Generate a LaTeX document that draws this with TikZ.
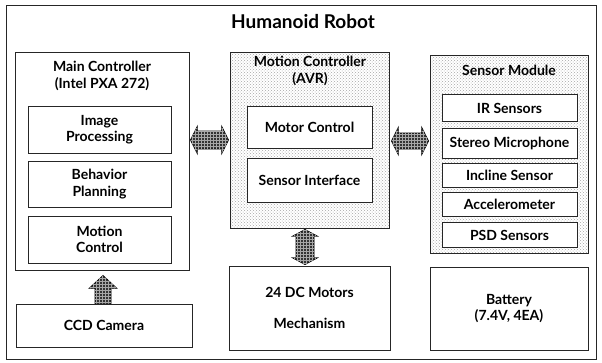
\documentclass[tikz,border=0pt]{standalone}
\usepackage{fontspec}
\setmainfont{Lato}
\usetikzlibrary{patterns,calc}
\begin{document}
\begin{tikzpicture}[x=1pt,y=-1pt,
  box/.style={draw=black!85, line width=0.8pt, fill=white, rectangle, inner sep=0pt, align=center, font=\bfseries\fontsize{14}{16.5}\selectfont},
  dotbox/.style={draw=black!85, line width=0.8pt, rectangle, inner sep=0pt, pattern=crosshatch dots, pattern color=black!35},
  lbl/.style={align=center, font=\bfseries\fontsize{14}{17}\selectfont, inner sep=1pt},
  fatarrow/.style={draw=black, line width=0.6pt, fill=black!80},
  hatch/.style={pattern=grid, pattern color=black!35}
]
\useasboundingbox (0,0) rectangle (602,362);
\node[draw=black!85, line width=0.9pt, minimum width=590pt, minimum height=354pt, inner sep=0pt] (frame) at (301,182) {};
\node[font=\bfseries\fontsize{19}{22}\selectfont] (title) at (303,22) {Humanoid Robot};

% Main controller
\node[box, minimum width=174pt, minimum height=218pt] (main) at (102,161) {};
\node[lbl] (maint) at (102,76) {Main Controller\\(Intel PXA 272)};
\node[box, minimum width=143pt, minimum height=47pt] (img) at (99.5,129.5) {Image\\Processing};
\node[box, minimum width=143pt, minimum height=46pt] (beh) at (99.5,184) {Behavior\\Planning};
\node[box, minimum width=143pt, minimum height=47pt] (mc) at (99.5,239.5) {Motion\\Control};
\node[box, minimum width=176pt, minimum height=43pt] (ccd) at (104,325.5) {CCD Camera};

% Motion controller
\node[dotbox, minimum width=159pt, minimum height=176pt] (motion) at (309.5,140) {};
\node[lbl] (motiont) at (310,71) {Motion Controller\\(AVR)};
\node[box, minimum width=125pt, minimum height=42pt] (motor) at (309.5,127) {Motor Control};
\node[box, minimum width=125pt, minimum height=44pt] (sint) at (309.5,180) {Sensor Interface};
\node[box, minimum width=161pt, minimum height=84pt] (motors) at (309.5,308) {24 DC Motors\\[14pt]Mechanism};

% Sensor module
\node[dotbox, minimum width=158pt, minimum height=198pt] (sensor) at (509,154) {};
\node[lbl] (sensort) at (509,70) {Sensor Module};
\node[box, minimum width=135pt, minimum height=27pt] (ir) at (509.5,108) {IR Sensors};
\node[box, minimum width=135pt, minimum height=30pt] (mic) at (509.5,143) {Stereo Microphone};
\node[box, minimum width=135pt, minimum height=24pt] (inc) at (509.5,175.5) {Incline Sensor};
\node[box, minimum width=135pt, minimum height=24pt] (acc) at (509.5,204.5) {Accelerometer};
\node[box, minimum width=135pt, minimum height=25pt] (psd) at (509.5,235) {PSD Sensors};
\node[box, minimum width=158pt, minimum height=83pt] (bat) at (509,308.5) {Battery\\(7.4V, 4EA)};

% fat arrows
\coordinate (a1) at (main.east |- 0,140);
\coordinate (b1) at (motion.west |- 0,140);
\foreach \k in {fatarrow,hatch}{
  \path[\k] ($(a1)+(1,0)$) -- ($(a1)+(8,-14)$) -- ($(a1)+(8,-9)$) -- ($(b1)+(-8,-9)$) -- ($(b1)+(-8,-14)$) -- ($(b1)+(-1,0)$) -- ($(b1)+(-8,14)$) -- ($(b1)+(-8,9)$) -- ($(a1)+(8,9)$) -- ($(a1)+(8,14)$) -- cycle;
}
\coordinate (a2) at (motion.east |- 0,141);
\coordinate (b2) at (sensor.west |- 0,141);
\foreach \k in {fatarrow,hatch}{
  \path[\k] ($(a2)+(2,0)$) -- ($(a2)+(9,-14)$) -- ($(a2)+(9,-8)$) -- ($(b2)+(-8,-8)$) -- ($(b2)+(-8,-14)$) -- ($(b2)+(-1,0)$) -- ($(b2)+(-8,14)$) -- ($(b2)+(-8,8)$) -- ($(a2)+(9,8)$) -- ($(a2)+(9,14)$) -- cycle;
}
\coordinate (a3) at (motion.south -| 305,0);
\coordinate (b3) at (motors.north -| 305,0);
\foreach \k in {fatarrow,hatch}{
  \path[\k] ($(a3)+(0,1)$) -- ($(a3)+(13,8)$) -- ($(a3)+(9,8)$) -- ($(b3)+(9,-8)$) -- ($(b3)+(13,-8)$) -- ($(b3)+(0,-1)$) -- ($(b3)+(-13,-8)$) -- ($(b3)+(-9,-8)$) -- ($(a3)+(-9,8)$) -- ($(a3)+(-13,8)$) -- cycle;
}
\coordinate (a4) at (ccd.north -| 103,0);
\coordinate (b4) at (main.south -| 103,0);
\foreach \k in {fatarrow,hatch}{
  \path[\k] ($(a4)+(-8,0)$) -- ($(b4)+(-8,18)$) -- ($(b4)+(-14,18)$) -- ($(b4)+(0,5)$) -- ($(b4)+(14,18)$) -- ($(b4)+(8,18)$) -- ($(a4)+(8,0)$) -- cycle;
}
\end{tikzpicture}
\end{document}
